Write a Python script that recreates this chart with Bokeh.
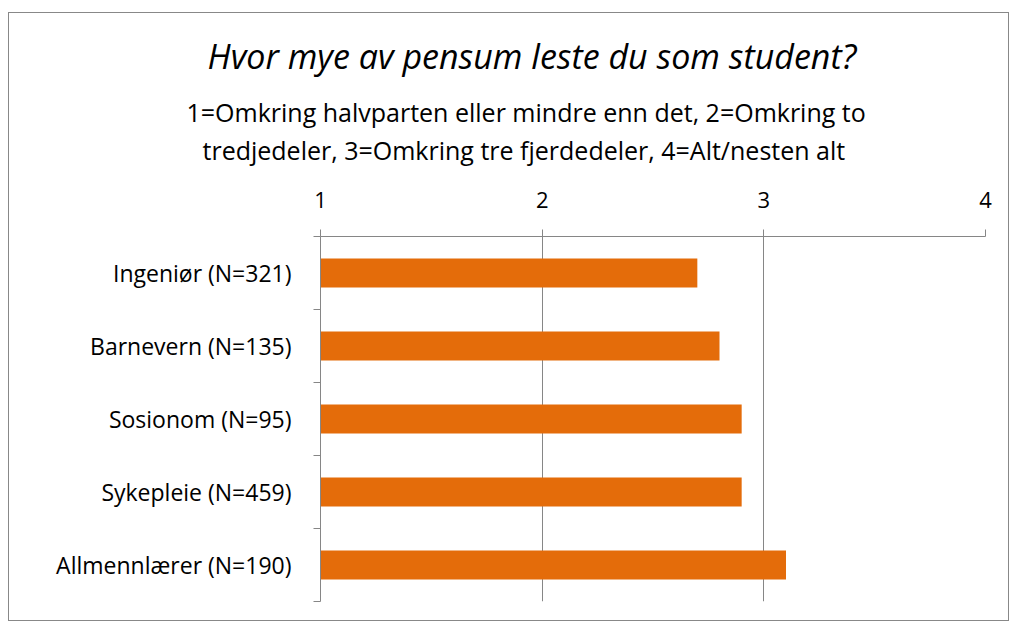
from bokeh.plotting import figure
from bokeh.models import FixedTicker, LinearAxis, Range1d, Title
from bokeh.embed import file_html
from bokeh.resources import INLINE

title = "Hvor mye av pensum leste du som student?"
subtitle = ["1=Omkring halvparten eller mindre enn det, 2=Omkring to",
            "tredjedeler, 3=Omkring tre fjerdedeler, 4=Alt/nesten alt"]
categories = ["Ingeniør (N=321)", "Barnevern (N=135)", "Sosionom (N=95)",
              "Sykepleie (N=459)", "Allmennlærer (N=190)"]
values = [2.70, 2.80, 2.90, 2.90, 3.10]
x_ticks = [1, 2, 3, 4]

FONT = "Open Sans"
GRAY = "#868686"
ORANGE = "#E46C0A"

n = len(categories)
ypos = [n - 0.5 - i for i in range(n)]  # first category at top

p = figure(width=1001, height=609, output_backend="svg", toolbar_location=None,
           x_range=Range1d(1, 4), y_range=Range1d(0, n),
           x_axis_location=None, y_axis_location=None,
           min_border_left=311, min_border_right=25, min_border_top=223, min_border_bottom=21)
p.outline_line_color = None
p.styles = {"border": "1px solid #888888", "margin-left": "8px", "margin-top": "12px"}

p.hbar(y=ypos, right=values, left=1, height=0.4, color=ORANGE, line_color=None)

xa = LinearAxis(ticker=FixedTicker(ticks=x_ticks))
xa.axis_line_color = GRAY
xa.major_tick_line_color = GRAY
xa.major_tick_out = 7
xa.major_tick_in = 0
xa.minor_tick_line_color = None
xa.major_label_text_font = FONT
xa.major_label_text_font_size = "22px"
xa.major_label_text_color = "#000000"
xa.major_label_standoff = 22
p.add_layout(xa, "above")

ya = LinearAxis(ticker=FixedTicker(ticks=ypos, minor_ticks=list(range(n + 1))))
ya.major_label_overrides = {y: c for y, c in zip(ypos, categories)}
ya.axis_line_color = GRAY
ya.major_tick_line_color = None
ya.minor_tick_line_color = GRAY
ya.minor_tick_out = 7
ya.minor_tick_in = 0
ya.major_label_text_font = FONT
ya.major_label_text_font_size = "23px"
ya.major_label_text_color = "#000000"
ya.major_label_standoff = 22
p.add_layout(ya, "left")

p.xgrid.ticker = FixedTicker(ticks=x_ticks)
p.xgrid.grid_line_color = GRAY
p.ygrid.grid_line_color = None

# titles: later-added titles sit further from the frame; offsets are from the frame's left edge
p.add_layout(Title(text=" ", text_font=FONT, text_font_size="14px", standoff=0), "above")
p.add_layout(Title(text=subtitle[1], align="left", offset=202 - 320, text_font=FONT,
                   text_font_size="25px", text_font_style="normal", text_color="#000000",
                   standoff=2), "above")
p.add_layout(Title(text=subtitle[0], align="left", offset=186 - 320, text_font=FONT,
                   text_font_size="25px", text_font_style="normal", text_color="#000000",
                   standoff=2), "above")
p.add_layout(Title(text=title, align="left", offset=207 - 320, text_font=FONT,
                   text_font_size="34px", text_font_style="italic", text_color="#000000",
                   standoff=26), "above")

open("out.html", "w").write(file_html(p, INLINE))
